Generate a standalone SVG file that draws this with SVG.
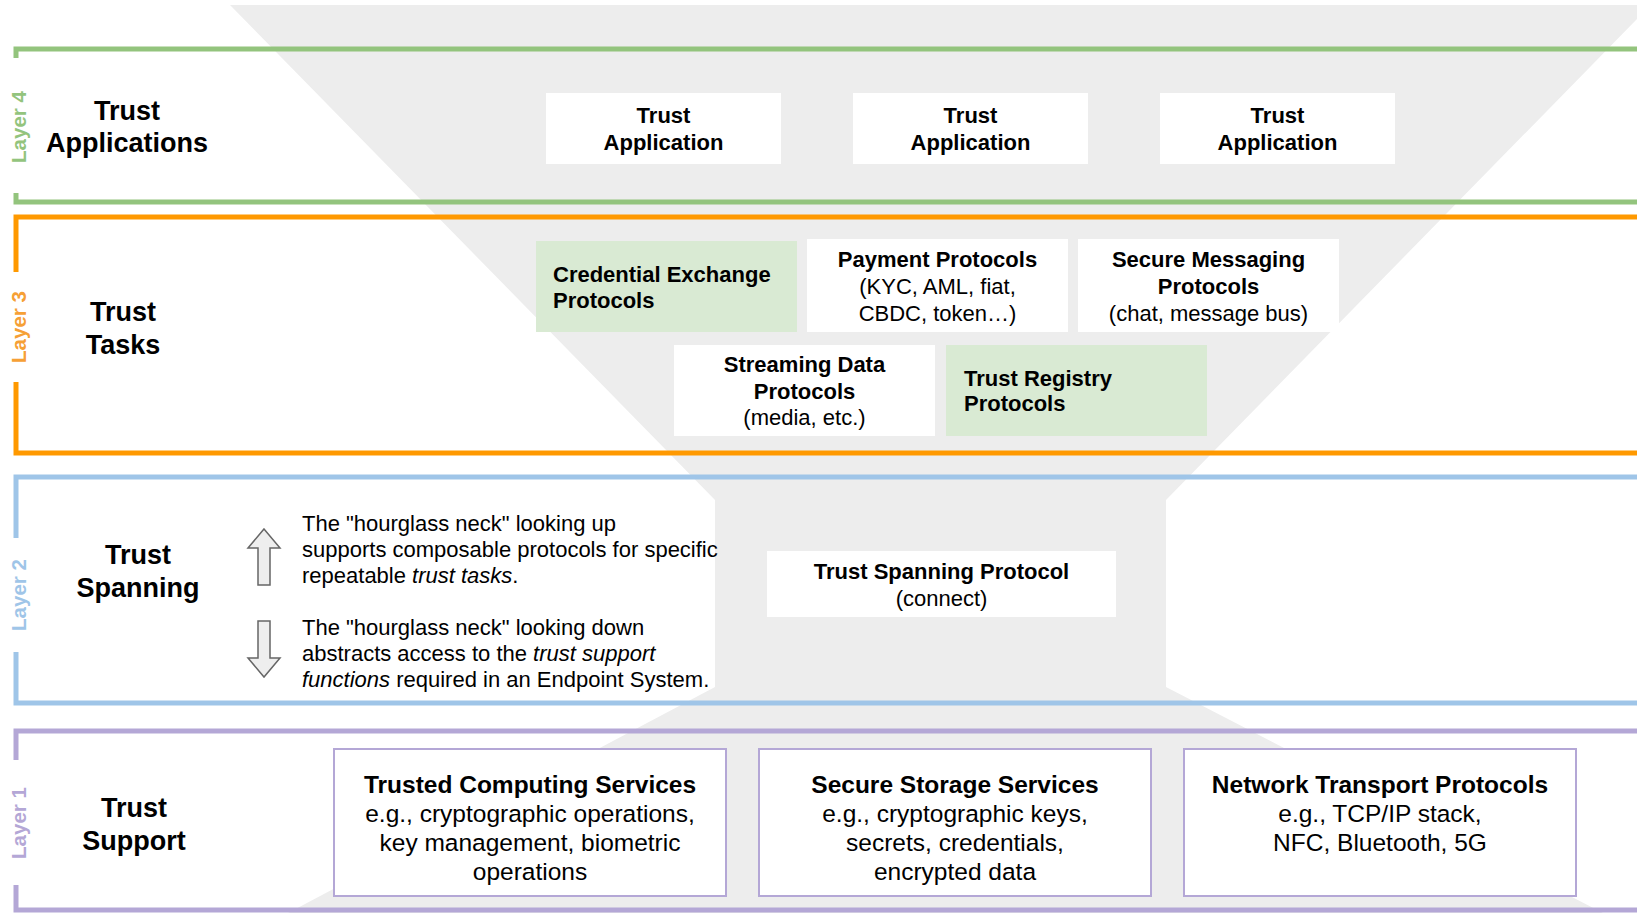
<svg xmlns="http://www.w3.org/2000/svg" width="1637" height="913" viewBox="0 0 1637 913">
  <defs>
    <style>
      text { font-family: "Liberation Sans", Arial, Helvetica, sans-serif; fill: #000; }
      .frame { fill: none; stroke-width: 5; stroke-linejoin: miter; }
      .layer { font-size: 20.5px; font-weight: bold; text-anchor: middle; }
      .title { font-size: 27px; font-weight: bold; text-anchor: middle; }
      .card { fill: #ffffff; }
      .card-green { fill: #d9ead3; }
      .card-l1 { fill: #ffffff; stroke: #b4a7d6; stroke-width: 2; }
      .b22 { font-size: 22px; font-weight: bold; }
      .r22 { font-size: 22px; }
      .b25 { font-size: 24.5px; font-weight: bold; }
      .r25 { font-size: 24.5px; }
      .mid { text-anchor: middle; }
      .arrow { fill: #eeeeee; stroke: #666666; stroke-width: 1.5; stroke-linejoin: miter; }
    </style>
  </defs>

  <rect x="0" y="0" width="1637" height="913" fill="#ffffff"/>

  <!-- hourglass backdrop -->
  <path id="hourglass" d="M230,5 H1637 V19 L1166,500 V687 L1603,913 H288 L715,687 V500 Z" fill="#ededed"/>

  <!-- layer frames -->
  <g id="layer-frames">
    <path class="frame" stroke="#93c47d" d="M1640,49 H16 V58 M16,193 V202 H1640"/>
    <path class="frame" stroke="#ff9900" d="M1640,217 H16 V272 M16,382 V453 H1640"/>
    <path class="frame" stroke="#9fc5e8" d="M1640,477 H16 V538 M16,652 V703 H1640"/>
    <path class="frame" stroke="#b4a7d6" d="M1640,731 H16 V760 M16,885 V910 H1640"/>
    <text class="layer" x="25.5" y="127" transform="rotate(-90 25.5 127)" style="fill:#93c47d">Layer 4</text>
    <text class="layer" x="25.5" y="327" transform="rotate(-90 25.5 327)" style="fill:#f6a035">Layer 3</text>
    <text class="layer" x="25.5" y="595" transform="rotate(-90 25.5 595)" style="fill:#9fc5e8">Layer 2</text>
    <text class="layer" x="25.5" y="823" transform="rotate(-90 25.5 823)" style="fill:#b4a7d6">Layer 1</text>
  </g>

  <!-- layer titles -->
  <g id="title-l4"><text class="title" x="127" y="119.5">Trust</text><text class="title" x="127" y="151.5">Applications</text></g>
  <g id="title-l3"><text class="title" x="123" y="321">Trust</text><text class="title" x="123" y="354">Tasks</text></g>
  <g id="title-l2"><text class="title" x="138" y="564">Trust</text><text class="title" x="138" y="597">Spanning</text></g>
  <g id="title-l1"><text class="title" x="134" y="817">Trust</text><text class="title" x="134" y="850">Support</text></g>

  <!-- Layer 4: trust applications -->
  <g id="app-1">
    <rect class="card" x="546" y="93" width="235" height="71"/>
    <text class="b22 mid" x="663.5" y="123">Trust</text>
    <text class="b22 mid" x="663.5" y="150">Application</text>
  </g>
  <g id="app-2">
    <rect class="card" x="853" y="93" width="235" height="71"/>
    <text class="b22 mid" x="970.5" y="123">Trust</text>
    <text class="b22 mid" x="970.5" y="150">Application</text>
  </g>
  <g id="app-3">
    <rect class="card" x="1160" y="93" width="235" height="71"/>
    <text class="b22 mid" x="1277.5" y="123">Trust</text>
    <text class="b22 mid" x="1277.5" y="150">Application</text>
  </g>

  <!-- Layer 3: trust task protocols -->
  <g id="credential-exchange">
    <rect class="card-green" x="536" y="241" width="261" height="91"/>
    <text class="b22" x="553" y="281.5">Credential Exchange</text>
    <text class="b22" x="553" y="307.5">Protocols</text>
  </g>
  <g id="payment">
    <rect class="card" x="807" y="239" width="261" height="93"/>
    <text class="b22 mid" x="937.5" y="267">Payment Protocols</text>
    <text class="r22 mid" x="937.5" y="294">(KYC, AML, fiat,</text>
    <text class="r22 mid" x="937.5" y="321">CBDC, token…)</text>
  </g>
  <g id="secure-messaging">
    <rect class="card" x="1078" y="239" width="261" height="93"/>
    <text class="b22 mid" x="1208.5" y="267">Secure Messaging</text>
    <text class="b22 mid" x="1208.5" y="294">Protocols</text>
    <text class="r22 mid" x="1208.5" y="321">(chat, message bus)</text>
  </g>
  <g id="streaming-data">
    <rect class="card" x="674" y="345" width="261" height="91"/>
    <text class="b22 mid" x="804.5" y="372">Streaming Data</text>
    <text class="b22 mid" x="804.5" y="399">Protocols</text>
    <text class="r22 mid" x="804.5" y="425">(media, etc.)</text>
  </g>
  <g id="trust-registry">
    <rect class="card-green" x="946" y="345" width="261" height="91"/>
    <text class="b22" x="964" y="386">Trust Registry</text>
    <text class="b22" x="964" y="411">Protocols</text>
  </g>

  <!-- Layer 2: spanning layer notes and protocol -->
  <g id="neck-notes">
    <path class="arrow" d="M264,529 L280,548 H270 V585 H258 V548 H248 Z"/>
    <path class="arrow" d="M258,621 H270 V658 H280 L264,677 L248,658 H258 Z"/>
    <text class="r22" x="302" y="531">The "hourglass neck" looking up</text>
    <text class="r22" x="302" y="557">supports composable protocols for specific</text>
    <text class="r22" x="302" y="583">repeatable <tspan font-style="italic">trust tasks</tspan>.</text>
    <text class="r22" x="302" y="635">The "hourglass neck" looking down</text>
    <text class="r22" x="302" y="661">abstracts access to the <tspan font-style="italic">trust support</tspan></text>
    <text class="r22" x="302" y="687"><tspan font-style="italic">functions</tspan> required in an Endpoint System.</text>
  </g>
  <g id="trust-spanning-protocol">
    <rect class="card" x="767" y="551" width="349" height="66"/>
    <text class="b22 mid" x="941.5" y="579">Trust Spanning Protocol</text>
    <text class="r22 mid" x="941.5" y="606">(connect)</text>
  </g>

  <!-- Layer 1: trust support services -->
  <g id="trusted-computing">
    <rect class="card-l1" x="334" y="749" width="392" height="147"/>
    <text class="b25 mid" x="530" y="792.5">Trusted Computing Services</text>
    <text class="r25 mid" x="530" y="821.5">e.g., cryptographic operations,</text>
    <text class="r25 mid" x="530" y="850.5">key management, biometric</text>
    <text class="r25 mid" x="530" y="879.5">operations</text>
  </g>
  <g id="secure-storage">
    <rect class="card-l1" x="759" y="749" width="392" height="147"/>
    <text class="b25 mid" x="955" y="792.5">Secure Storage Services</text>
    <text class="r25 mid" x="955" y="821.5">e.g., cryptographic keys,</text>
    <text class="r25 mid" x="955" y="850.5">secrets, credentials,</text>
    <text class="r25 mid" x="955" y="879.5">encrypted data</text>
  </g>
  <g id="network-transport">
    <rect class="card-l1" x="1184" y="749" width="392" height="147"/>
    <text class="b25 mid" x="1380" y="792.5">Network Transport Protocols</text>
    <text class="r25 mid" x="1380" y="821.5">e.g., TCP/IP stack,</text>
    <text class="r25 mid" x="1380" y="850.5">NFC, Bluetooth, 5G</text>
  </g>

  <!-- no connectors in this figure -->
  <g id="connectors"/>
</svg>
